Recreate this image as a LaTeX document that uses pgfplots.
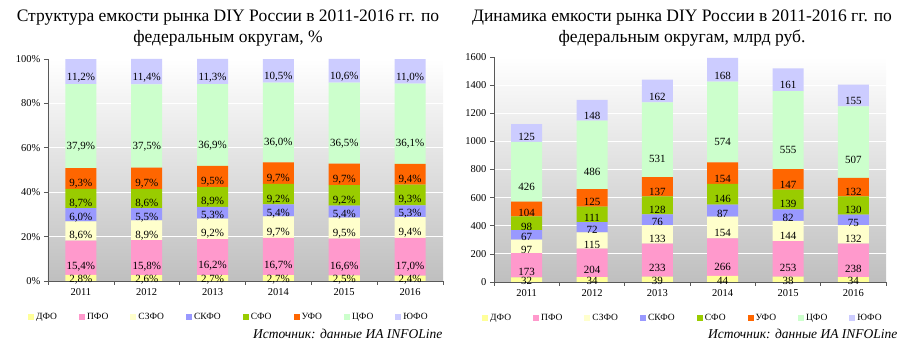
\documentclass[border=0pt]{standalone}
\usepackage{pgfplots}
\pgfplotsset{compat=1.18}
\usepackage{pgfplotstable}
\usepackage{fontspec}
\setmainfont{Liberation Serif}

\definecolor{cdfo}{HTML}{FFFF99}
\definecolor{cpfo}{HTML}{FF99CC}
\definecolor{cszfo}{HTML}{FFFFCC}
\definecolor{cskfo}{HTML}{9999FF}
\definecolor{csfo}{HTML}{99CC00}
\definecolor{cufo}{HTML}{FF6600}
\definecolor{ccfo}{HTML}{CCFFCC}
\definecolor{cyufo}{HTML}{CCCCFF}

\pgfplotstableread{
x dfo pfo szfo skfo sfo ufo cfo yufo
0 2.8 15.4 8.6 6.0 8.7 9.3 37.9 11.2
1 2.6 15.8 8.9 5.5 8.6 9.7 37.5 11.4
2 2.7 16.2 9.2 5.3 8.9 9.5 36.9 11.3
3 2.7 16.7 9.7 5.4 9.2 9.7 36.0 10.5
4 2.5 16.6 9.5 5.4 9.2 9.7 36.5 10.6
5 2.4 17.0 9.4 5.3 9.3 9.4 36.1 11.0
}\pct

\pgfplotstableread{
x dfo pfo szfo skfo sfo ufo cfo yufo
0 32 173 97 67 98 104 426 125
1 34 204 115 72 111 125 486 148
2 39 233 133 76 128 137 531 162
3 44 266 154 87 146 154 574 168
4 38 253 144 82 139 147 555 161
5 34 238 132 75 130 132 507 155
}\abs

\pgfplotsset{
  labelfactor/.initial=1,
  calculate offset/.code={%
    \pgfkeys{/pgf/fpu=true,/pgf/fpu/output format=fixed}%
    \pgfmathsetmacro\testmacro{\pgfplotspointmeta*\pgfkeysvalueof{/pgfplots/labelfactor}}%
    \pgfkeys{/pgf/fpu=false}%
  },
  centered labels/.style={
    every node near coord/.append style={/pgfplots/calculate offset, yshift=-\testmacro pt, anchor=center},
  },
}

\pgfplotsset{
  mybar/.style={
    ybar stacked, bar width=31pt,
    scale only axis,
    xmin=-0.5, xmax=5.5, ymin=0,
    xtick={0,...,5}, xticklabels={2011,2012,2013,2014,2015,2016},
    minor xtick={-0.5,0.5,...,5.5},
    every major x tick/.append style={draw=none},
    tick align=outside, major tick length=4pt, minor tick length=4pt,
    axis x line*=bottom, axis y line*=left,
    axis line style={black!65, line width=0.6pt},
    every tick/.append style={black!65, line width=0.6pt},
    ymajorgrids, major grid style={white, line width=0.8pt},
    axis background/.style={shade, top color=white, bottom color=black!25},
    tick label style={font=\fontsize{10.5}{12}\selectfont},
    /pgf/number format/assume math mode=true,
    centered labels,
    nodes near coords style={font=\fontsize{11}{12}\selectfont, text=black},
    legend image code/.code={\fill[##1] (0pt,-3pt) rectangle (6pt,3pt);},
    legend style={draw=none, fill=none, legend columns=8, anchor=center,
      font=\fontsize{9.5}{11}\selectfont,
      /tikz/every even column/.append style={column sep=20pt},
      inner sep=0pt},
    legend cell align=left,
    every axis plot/.append style={draw=none},
  }
}

\begin{document}
\begin{tikzpicture}
\path[use as bounding box] (0,0) rectangle (907pt,358pt);

\node[align=center, font=\fontsize{17.5}{21.5}\selectfont] at (228pt,330pt)
  {Структура емкости рынка DIY России в 2011-2016 гг. по\\федеральным округам, \%};
\node[align=center, font=\fontsize{17.5}{21.5}\selectfont] at (682pt,330pt)
  {Динамика емкости рынка DIY России в 2011-2016 гг. по\\федеральным округам, млрд руб.};

\begin{axis}[mybar,
  at={(48pt,77pt)}, anchor=south west,
  width=395pt, height=222pt,
  ymax=100, ytick={0,20,...,100},
  labelfactor=0.555,
  yticklabel={\pgfmathprintnumber{\tick}\%},
  nodes near coords={\pgfmathprintnumber[fixed,fixed zerofill,precision=1,use comma]{\pgfplotspointmeta}\%},
  legend style={at={(0.458,-0.162)}},
]
\addplot[fill=cdfo] table[x=x,y=dfo]{\pct};
\addplot[fill=cpfo] table[x=x,y=pfo]{\pct};
\addplot[fill=cszfo] table[x=x,y=szfo]{\pct};
\addplot[fill=cskfo] table[x=x,y=skfo]{\pct};
\addplot[fill=csfo] table[x=x,y=sfo]{\pct};
\addplot[fill=cufo] table[x=x,y=ufo]{\pct};
\addplot[fill=ccfo] table[x=x,y=cfo]{\pct};
\addplot[fill=cyufo] table[x=x,y=yufo]{\pct};
\legend{ДФО,ПФО,СЗФО,СКФО,СФО,УФО,ЦФО,ЮФО}
\end{axis}

\begin{axis}[mybar,
  at={(494pt,76pt)}, anchor=south west,
  width=392pt, height=225pt,
  ymax=1600, ytick={0,200,...,1600},
  labelfactor=0.03515625,
  yticklabel style={/pgf/number format/1000 sep={}},
  nodes near coords={\pgfmathprintnumber[fixed,precision=0]{\pgfplotspointmeta}},
  legend style={at={(0.482,-0.16)}},
]
\addplot[fill=cdfo] table[x=x,y=dfo]{\abs};
\addplot[fill=cpfo] table[x=x,y=pfo]{\abs};
\addplot[fill=cszfo] table[x=x,y=szfo]{\abs};
\addplot[fill=cskfo] table[x=x,y=skfo]{\abs};
\addplot[fill=csfo] table[x=x,y=sfo]{\abs};
\addplot[fill=cufo] table[x=x,y=ufo]{\abs};
\addplot[fill=ccfo] table[x=x,y=cfo]{\abs};
\addplot[fill=cyufo] table[x=x,y=yufo]{\abs};
\legend{ДФО,ПФО,СЗФО,СКФО,СФО,УФО,ЦФО,ЮФО}
\end{axis}

\node[anchor=east, font=\itshape\fontsize{13.5}{16}\selectfont] at (446pt,24pt) {Источник: данные ИА INFOLine};
\node[anchor=east, font=\itshape\fontsize{13.5}{16}\selectfont] at (901pt,24pt) {Источник: данные ИА INFOLine};
\end{tikzpicture}
\end{document}
